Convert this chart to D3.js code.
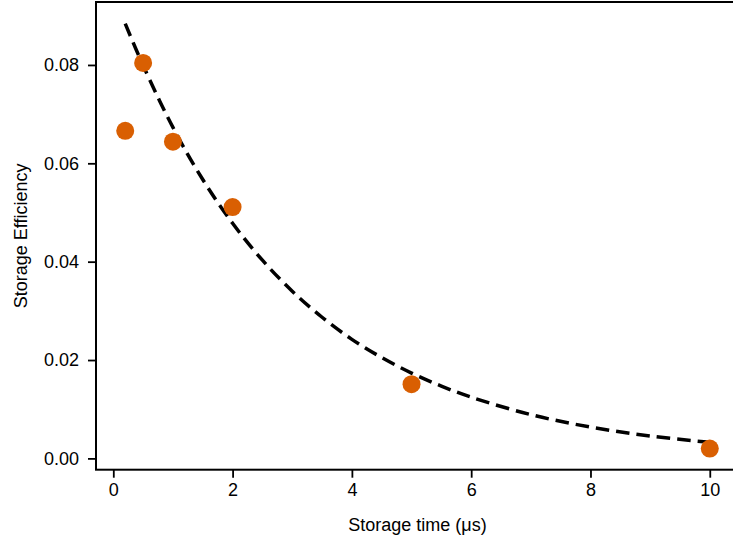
<!DOCTYPE html>
<html>
<head>
<meta charset="utf-8">
<script src="https://cdn.jsdelivr.net/npm/d3@7"></script>
<style>
  html, body { margin: 0; padding: 0; background: #fff; }
  svg { display: block; font-family: "Liberation Sans", Arial, Helvetica, sans-serif; }
</style>
</head>
<body>
<svg id="chart" width="733" height="540"></svg>
<script>
// Measured data points
const storageTime = [0.2, 0.5, 1, 2, 5, 10];
const efficiency = [0.0666, 0.0804, 0.0644, 0.0511, 0.0151, 0.0020];

// Fit curve
const fitTime = [0.2, 0.5, 1, 1.5, 2, 2.5, 3, 3.5, 4, 4.5, 5, 5.5, 6, 7, 8, 9, 10];
const fitEff  = [0.0884, 0.0799, 0.0673, 0.0567, 0.0478, 0.0403, 0.0340, 0.0287, 0.0242,
                 0.0205, 0.01735, 0.01470, 0.01245, 0.00890, 0.00636, 0.00455, 0.00326];

const xTicks = [0, 2, 4, 6, 8, 10];
const yTicks = [0.00, 0.02, 0.04, 0.06, 0.08];
const xLabel = "Storage time (μs)";
const yLabel = "Storage Efficiency";

(function () {
const svg = d3.select("#chart");
const mLeft = 96, mRight = 739, mTop = 2, mBottom = 469.7;

const x = d3.scaleLinear().domain([-0.29, 10.49]).range([mLeft, mRight]);
const y = d3.scaleLinear().domain([-0.0023, 0.0928]).range([mBottom, mTop]);

const fontSize = 18;

// Axes
const xAxis = d3.axisBottom(x).tickValues(xTicks).tickFormat(d3.format("d"))
  .tickSizeInner(8).tickSizeOuter(0).tickPadding(6);
const yAxis = d3.axisLeft(y).tickValues(yTicks).tickFormat(d3.format(".2f"))
  .tickSizeInner(8).tickSizeOuter(0).tickPadding(9);

const gx = svg.append("g").attr("transform", `translate(0,${mBottom})`).call(xAxis);
const gy = svg.append("g").attr("transform", `translate(${mLeft},0)`).call(yAxis);
[gx, gy].forEach(g => {
  g.select(".domain").remove();
  g.selectAll(".tick line").attr("stroke", "#000").attr("stroke-width", 1.8);
  g.selectAll(".tick text").attr("fill", "#000").attr("font-size", fontSize)
    .attr("font-family", "'Liberation Sans', Arial, sans-serif");
});

// Spines (frame; right spine lies outside the visible area)
svg.append("rect")
  .attr("x", mLeft).attr("y", mTop)
  .attr("width", mRight - mLeft).attr("height", mBottom - mTop)
  .attr("fill", "none").attr("stroke", "#000").attr("stroke-width", 2);

// Fit line
const line = d3.line().x((d, i) => x(fitTime[i])).y((d, i) => y(fitEff[i]))
  .curve(d3.curveCatmullRom.alpha(0.5));
svg.append("path")
  .datum(fitTime)
  .attr("d", line)
  .attr("fill", "none")
  .attr("stroke", "#000")
  .attr("stroke-width", 3.5)
  .attr("stroke-dasharray", "13.5,7");

// Points
svg.append("g").selectAll("circle")
  .data(storageTime)
  .join("circle")
  .attr("cx", d => x(d))
  .attr("cy", (d, i) => y(efficiency[i]))
  .attr("r", 9)
  .attr("fill", "#D95F02");

// Axis labels
svg.append("text")
  .attr("x", (mLeft + mRight) / 2)
  .attr("y", 531)
  .attr("text-anchor", "middle")
  .attr("font-size", fontSize)
  .attr("fill", "#000")
  .text(xLabel);

svg.append("text")
  .attr("transform", `translate(27,${(mTop + mBottom) / 2}) rotate(-90)`)
  .attr("text-anchor", "middle")
  .attr("font-size", fontSize)
  .attr("fill", "#000")
  .text(yLabel);
})();
</script>
</body>
</html>
